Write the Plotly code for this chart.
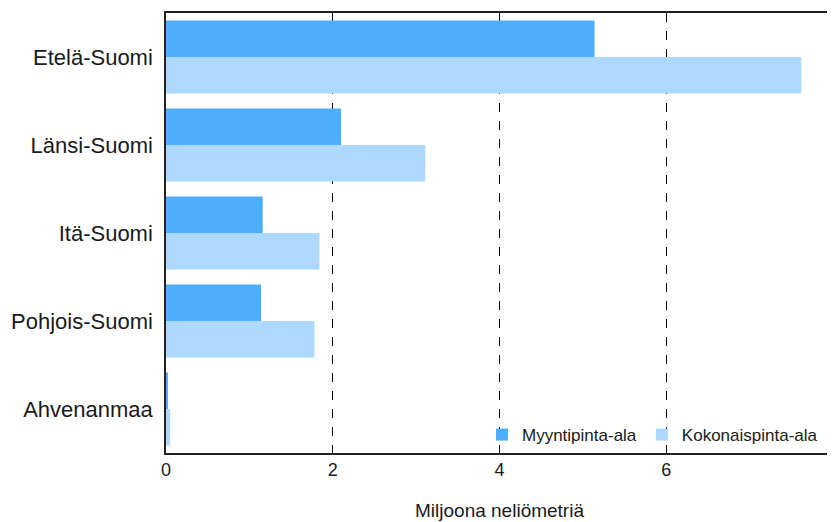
import plotly.graph_objects as go

regions = ["Etelä-Suomi", "Länsi-Suomi", "Itä-Suomi", "Pohjois-Suomi", "Ahvenanmaa"]
myynti = [5.14, 2.10, 1.16, 1.14, 0.02]
kokonais = [7.62, 3.11, 1.84, 1.78, 0.05]
x_ticks = [0, 2, 4, 6, 8]

narrow = "Liberation Sans Narrow, Arial Narrow, Liberation Sans"

fig = go.Figure()
fig.add_trace(go.Bar(y=regions, x=myynti, orientation="h", name="Myyntipinta-ala",
                     marker=dict(color="#4DADFF", line=dict(width=0))))
fig.add_trace(go.Bar(y=regions, x=kokonais, orientation="h", name="Kokonaispinta-ala",
                     marker=dict(color="#ADD8FF", line=dict(width=0))))

fig.update_layout(
    width=830, height=514,
    margin=dict(l=158, r=5, t=5, b=69, autoexpand=False),
    paper_bgcolor="white", plot_bgcolor="white",
    barmode="group", bargap=0.17, bargroupgap=0,
    font=dict(family="Liberation Sans, Arial", size=16, color="#1a1a1a"),
    showlegend=True,
    legend=dict(orientation="h", x=0.985, y=0.0, xanchor="right", yanchor="bottom",
                bgcolor="rgba(255,255,255,0)", font=dict(size=17),
                itemwidth=30, tracegroupgap=0),
    xaxis=dict(range=[0, 8], tickvals=x_ticks, showgrid=True, gridcolor="black",
               griddash="dash", gridwidth=1, zeroline=False, showline=True,
               linecolor="#222", linewidth=1.5, mirror=True, ticks="",
               automargin=False, ticklabeloverflow="allow",
               tickfont=dict(family=narrow, size=18),
               title=dict(text="Miljoona neliömetriä", standoff=24,
                          font=dict(family=narrow, size=19))),
    yaxis=dict(autorange="reversed", showgrid=False, showline=True, linecolor="#222",
               linewidth=1.5, mirror=True, ticks="", ticklabelstandoff=7,
               automargin=False,
               tickfont=dict(size=22)),
)

fig.write_html("out.html")
